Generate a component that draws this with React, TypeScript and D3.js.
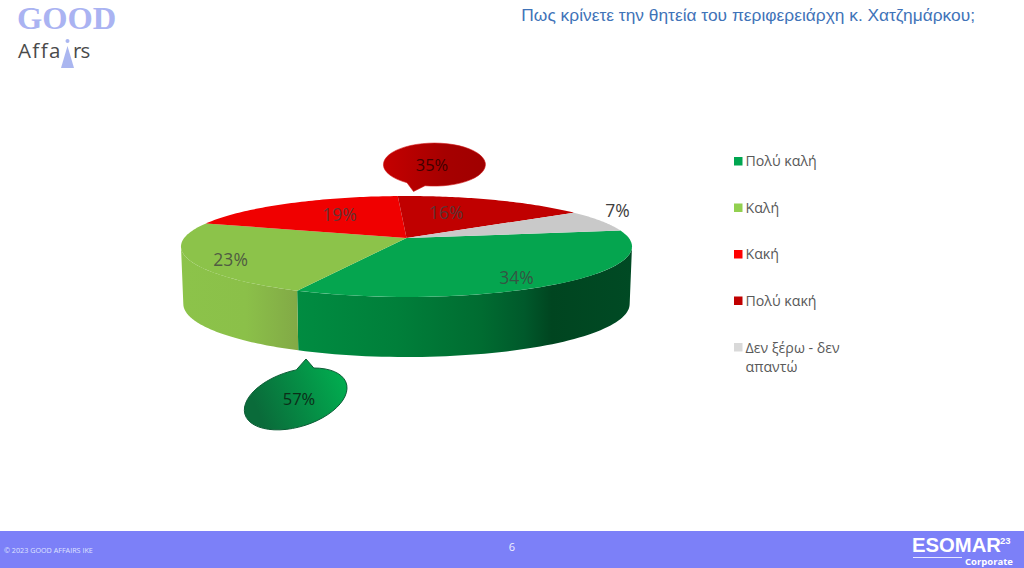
import * as d3 from 'd3';
import { useEffect } from 'react';

const categories = ['Πολύ καλή', 'Καλή', 'Κακή', 'Πολύ κακή', 'Δεν ξέρω - δεν απαντώ'];
const values = [34, 23, 19, 16, 7];
const colors = ['#05a54f', '#8cc34a', '#f00000', '#c00000', '#c9c9c9'];
const legendColors = ['#00a650', '#92d050', '#ff0000', '#c00000', '#d9d9d9'];
const positiveTotal = 57;
const negativeTotal = 35;

const title = 'Πως κρίνετε την θητεία του περιφερειάρχη κ. Χατζημάρκου;';
const font = '"Open Sans", "Noto Sans", sans-serif';
const deg = Math.PI / 180;

// the pie is tilted with some perspective, so the apex is not the ellipse centre
const cx = 406.5;
const persp = 0.168;
const project = (y0: number, kx: number, ky: number) => (a: number, r = 1): [number, number] => {
  const u = r * Math.sin(a);
  const v = -r * Math.cos(a);
  const w = 1 - persp * v;
  return [cx + (kx * u) / w, y0 + (ky * v) / w];
};
const topRim = project(238, 222.3, 49.06);
const bottomRim = project(295, 220, 51.6);
const visibleFrom = 99.7 * deg;
const visibleTo = 260.3 * deg;

const line = d3.line();
const sample = (a0: number, a1: number) => d3.range(0, 61).map((i) => a0 + ((a1 - a0) * i) / 60);

const pie = d3.pie<number>().sort(null).startAngle(81 * deg).endAngle(441 * deg);
const slices = pie(values);

// [radius factor, angle shift in degrees] for each data label
const labelSpots = [[0.82, 5], [0.84, -5], [0.625, 5.5], [0.62, -8], [1.22, -9]];

const y = d3.scalePoint<string>().domain(categories).range([161, 347]);

const App = () => {
  useEffect(() => {
    document.body.style.margin = '0';
  }, []);

  return (
    <svg width={1024} height={568} style={{ display: 'block', background: '#fff', fontFamily: font }}>
      <defs>
        <linearGradient id="wallGreen" gradientUnits="userSpaceOnUse" x1={297} x2={632} y1={0} y2={0}>
          <stop offset="0" stopColor="#008c41" />
          <stop offset="0.3" stopColor="#007f3a" />
          <stop offset="0.55" stopColor="#006c31" />
          <stop offset="0.68" stopColor="#00592b" />
          <stop offset="0.76" stopColor="#004520" />
          <stop offset="1" stopColor="#004a24" />
        </linearGradient>
        <linearGradient id="wallLight" gradientUnits="userSpaceOnUse" x1={183} x2={297} y1={0} y2={0}>
          <stop offset="0" stopColor="#8cc34a" />
          <stop offset="0.55" stopColor="#8bc049" />
          <stop offset="1" stopColor="#82aa46" />
        </linearGradient>
        <linearGradient id="bubbleRed" x1="0" x2="1" y1="0" y2="0">
          <stop offset="0" stopColor="#c40000" />
          <stop offset="0.6" stopColor="#a60000" />
          <stop offset="1" stopColor="#a00000" />
        </linearGradient>
        <linearGradient id="bubbleGreen" x1="0" x2="1" y1="0.3" y2="0">
          <stop offset="0" stopColor="#0a6b3a" />
          <stop offset="1" stopColor="#00b452" />
        </linearGradient>
      </defs>

      {/* logo */}
      <text x={17} y={29} fontFamily='"Liberation Serif", serif' fontWeight={700} fontSize={32.5} fill="#aab3f2">GOOD</text>
      <text y={58} fontSize={20.5} fill="#4a4a4a">
        <tspan x={18} letterSpacing={1.4}>Affa</tspan>
        <tspan x={73} letterSpacing={-1}>rs</tspan>
      </text>
      <path d="M67.5,46 L74,68 L61,68 Z" fill="#aab6f0" />
      <circle cx={67.5} cy={41} r={2} fill="#aab6f0" />

      {/* title */}
      <text x={975} y={21} textAnchor="end" fontFamily='"Liberation Sans", sans-serif' fontSize={17.35} fill="#3f73b8">{title}</text>

      {/* side wall */}
      {slices.map((s, i) => {
        const a0 = Math.max(s.startAngle, visibleFrom);
        const a1 = Math.min(s.endAngle, visibleTo);
        if (a1 <= a0) return null;
        const angles = sample(a0, a1);
        const pts = [...angles.map((a) => topRim(a)), ...angles.reverse().map((a) => bottomRim(a))];
        return <path key={i} d={line(pts) + 'Z'} fill={i === 0 ? 'url(#wallGreen)' : 'url(#wallLight)'} />;
      })}

      {/* top face */}
      {slices.map((s, i) => {
        const pts: [number, number][] = [topRim(0, 0), ...sample(s.startAngle, s.endAngle).map((a) => topRim(a))];
        return <path key={i} d={line(pts) + 'Z'} fill={colors[i]} />;
      })}

      {/* data labels */}
      {slices.map((s, i) => {
        const mid = (s.startAngle + s.endAngle) / 2 + labelSpots[i][1] * deg;
        const [lx, ly] = topRim(mid, labelSpots[i][0]);
        return (
          <text key={i} x={lx} y={ly} textAnchor="middle" dominantBaseline="central" fontSize={17.5}
            fill="#404040" fillOpacity={i === 4 ? 1 : 0.8}>
            {s.value}%
          </text>
        );
      })}

      {/* callouts */}
      <path d="M407,182.7 A51,21.5 0 1 1 425,185.7 L413.5,191.5 Z"
        fill="url(#bubbleRed)" stroke="#d01818" strokeWidth={0.6} />
      <text x={432} y={164} textAnchor="middle" dominantBaseline="central" fontSize={16.5} fill="#400000">{negativeTotal}%</text>
      <path d="M296.3,369.9 A53,28 -17 1 0 313.8,368 L306,359 Z"
        fill="url(#bubbleGreen)" stroke="#0b5c35" strokeWidth={1} />
      <text x={299} y={398} textAnchor="middle" dominantBaseline="central" fontSize={16.5} fill="#0c2d18">{positiveTotal}%</text>

      {/* legend */}
      {categories.map((c, i) => (
        <g key={c}>
          <rect x={734} y={(y(c) as number) - 4} width={8.5} height={8.5} fill={legendColors[i]} />
          <text x={745.5} y={(y(c) as number) - 0.5} dominantBaseline="central" fontSize={14.2} fill="#595959">
            {i === 4 ? (
              <>
                <tspan x={745.5}>Δεν ξέρω - δεν</tspan>
                <tspan x={745.5} dy={19.5}>απαντώ</tspan>
              </>
            ) : c}
          </text>
        </g>
      ))}

      {/* footer */}
      <rect x={0} y={531} width={1024} height={37} fill="#7c80f8" />
      <text x={4} y={553} fontSize={7.2} fill="#dfe2ff">© 2023 GOOD AFFAIRS IKE</text>
      <text x={512} y={551} textAnchor="middle" fontSize={11} fill="#f0f0ff">6</text>
      <text x={912} y={552} fontSize={20.3} fontWeight={700} fill="#fff" fontFamily='"Liberation Sans", sans-serif'>ESOMAR</text>
      <text x={1000} y={544} fontSize={9.5} fontWeight={700} fill="#fff" fontFamily='"Liberation Sans", sans-serif'>23</text>
      <rect x={913} y={557} width={49} height={1} fill="#e8e8ff" />
      <text x={965} y={565} fontSize={9.5} fontWeight={700} fill="#fff">Corporate</text>
    </svg>
  );
};

export default App;
